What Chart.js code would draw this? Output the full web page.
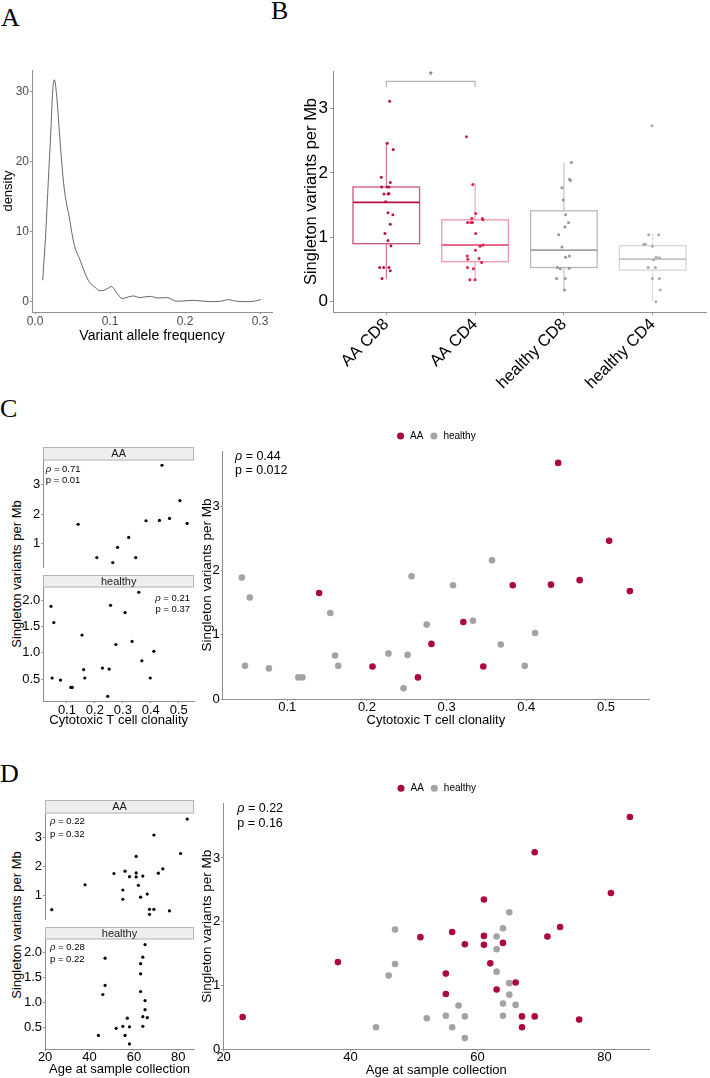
<!DOCTYPE html>
<html>
<head>
<meta charset="utf-8">
<script src="https://cdn.jsdelivr.net/npm/chart.js@4.4.1/dist/chart.umd.min.js"></script>
<style>
  body { margin: 0; background: #fff; width: 710px; height: 1078px; position: relative; overflow: hidden; font-family: "Liberation Sans", Arial, sans-serif; }
  canvas { position: absolute; }
  .letter { position: absolute; font-family: "Liberation Serif", "Times New Roman", serif; font-size: 26px; line-height: 26px; color: #000; }
  .ytitle { position: absolute; width: 220px; height: 16px; line-height: 16px; text-align: center; white-space: nowrap; font-size: 13px; color: #000; transform: rotate(-90deg); }
</style>
</head>
<body>
<div class="letter" style="left:1px;top:5px">A</div>
<div class="letter" style="left:271px;top:-2px">B</div>
<div class="letter" style="left:0px;top:396px">C</div>
<div class="letter" style="left:0px;top:761px">D</div>
<div class="ytitle" style="left:-93px;top:566px">Singleton variants per Mb</div>
<div class="ytitle" style="left:-93px;top:917px">Singleton variants per Mb</div>

<canvas id="chartA"></canvas>
<canvas id="chartB"></canvas>
<canvas id="chartCaa"></canvas>
<canvas id="chartChealthy"></canvas>
<canvas id="chartC"></canvas>
<canvas id="chartDaa"></canvas>
<canvas id="chartDhealthy"></canvas>
<canvas id="chartD"></canvas>

<script>
// A: density of variant allele frequency
const vafX = [0.0103, 0.0143, 0.0178, 0.021, 0.0236, 0.0258, 0.029, 0.0333, 0.0387, 0.0457, 0.052, 0.060, 0.071, 0.080, 0.0867, 0.094, 0.102, 0.109, 0.116, 0.124, 0.131, 0.140, 0.153, 0.164, 0.176, 0.189, 0.211, 0.233, 0.247, 0.258, 0.269, 0.287, 0.301];
const vafDensity = [3.1, 9.8, 17.4, 24.1, 30.2, 31.7, 29.3, 23.1, 16.4, 12.1, 8.3, 6.0, 3.1, 2.1, 1.6, 1.75, 2.2, 1.3, 0.5, 0.7, 0.86, 0.63, 0.81, 0.57, 0.62, 0.1, 0.24, 0.05, 0.1, 0.33, 0.1, 0.05, 0.33];
const vafTicks = [0, 0.1, 0.2, 0.3];
const densityTicks = [0, 10, 20, 30];

// B: singleton variants per group
const groups = ['AA CD8', 'AA CD4', 'healthy CD8', 'healthy CD4'];
const boxLower = [0.35, 0.34, 0.18, 0.00];
const boxQ1 = [0.90, 0.62, 0.53, 0.49];
const boxMedian = [1.54, 0.88, 0.80, 0.66];
const boxQ3 = [1.78, 1.27, 1.41, 0.87];
const boxUpper = [2.45, 1.84, 2.16, 1.06];
const aaCD8Vals = [3.11, 2.46, 2.36, 1.93, 1.85, 1.78, 1.78, 1.78, 1.67, 1.67, 1.68, 1.55, 1.38, 1.35, 1.20, 1.06, 0.95, 0.87, 0.53, 0.53, 0.53, 0.48, 0.36];
const aaCD8Jit = [0.037, 0.011, 0.078, -0.056, 0.045, -0.052, 0.011, 0.030, -0.026, 0.019, 0.030, -0.007, 0.019, 0.074, 0.045, -0.015, 0.019, 0.052, -0.074, -0.030, 0.030, 0.045, -0.048];
const aaCD4Vals = [2.56, 1.82, 1.37, 1.29, 1.29, 1.27, 1.23, 1.23, 1.23, 1.06, 0.88, 0.86, 0.80, 0.71, 0.66, 0.67, 0.61, 0.53, 0.51, 0.34, 0.34];
const aaCD4Jit = [-0.097, -0.026, 0.007, -0.037, 0.082, 0.089, -0.085, -0.048, -0.030, 0.007, 0.089, 0.056, 0.004, -0.089, -0.082, 0.045, 0.074, -0.085, -0.019, -0.059, 0.000];
const healthyCD8Vals = [2.16, 1.90, 1.88, 1.77, 1.58, 1.35, 1.23, 1.16, 1.04, 0.85, 0.71, 0.69, 0.53, 0.51, 0.52, 0.36, 0.36, 0.18];
const healthyCD8Jit = [0.085, 0.063, 0.074, -0.022, -0.007, 0.019, 0.052, 0.011, -0.059, -0.022, 0.063, 0.019, -0.074, -0.041, 0.059, -0.082, 0.015, 0.007];
const healthyCD4Vals = [2.73, 1.04, 1.04, 0.89, 0.89, 0.86, 0.69, 0.68, 0.65, 0.53, 0.53, 0.36, 0.36, 0.18, 0.00];
const healthyCD4Jit = [-0.007, -0.045, 0.067, -0.100, -0.082, -0.004, 0.041, 0.078, 0.011, -0.052, 0.030, -0.004, 0.074, 0.085, 0.037];
const sigPair = [1, 2];
const sigLevel = 3.42;
const sigLabel = '*';
const burdenTicks = [0, 1, 2, 3];

// C: clonality vs burden
const clonAAX = [0.440, 0.504, 0.140, 0.383, 0.431, 0.467, 0.530, 0.321, 0.281, 0.207, 0.346, 0.264];
const clonAAY = [3.67, 2.46, 1.65, 1.77, 1.78, 1.85, 1.68, 1.20, 0.86, 0.51, 0.51, 0.34];
const clonHealthyX = [0.043, 0.053, 0.047, 0.077, 0.114, 0.119, 0.154, 0.160, 0.164, 0.227, 0.251, 0.246, 0.256, 0.275, 0.308, 0.333, 0.357, 0.368, 0.398, 0.411];
const clonHealthyY = [1.89, 1.58, 0.52, 0.48, 0.34, 0.34, 1.34, 0.68, 0.52, 0.71, 0.69, 0.17, 1.91, 1.16, 1.77, 1.22, 2.16, 0.85, 0.52, 1.03];
const clonTicks = [0.1, 0.2, 0.3, 0.4, 0.5];

// D: age vs burden
const ageAAX = [84, 69, 81, 61, 73, 56, 51, 71, 61, 58, 61, 64, 38, 62, 55, 66, 63, 55, 23, 67, 69, 76, 67];
const ageAAY = [3.64, 3.09, 2.45, 2.35, 1.92, 1.84, 1.76, 1.77, 1.78, 1.65, 1.64, 1.67, 1.37, 1.35, 1.19, 1.05, 0.94, 0.87, 0.51, 0.52, 0.52, 0.47, 0.35];
const ageHealthyX = [65, 47, 64, 63, 63, 47, 46, 63, 65, 65, 64, 66, 57, 55, 58, 64, 52, 44, 56, 58];
const ageHealthyY = [2.15, 1.88, 1.90, 1.77, 1.57, 1.34, 1.16, 1.22, 1.04, 0.86, 0.72, 0.70, 0.69, 0.53, 0.52, 0.53, 0.49, 0.35, 0.35, 0.18];
const ageTicks = [20, 40, 60, 80];

const facetAATicks = [1, 2, 3];
const facetHealthyTicks = [0.5, 1.0, 1.5, 2.0];

// spearman labels [rho, p]
const corrClonAll = ['0.44', '0.012'];
const corrClonAA = ['0.71', '0.01'];
const corrClonHealthy = ['0.21', '0.37'];
const corrAgeAll = ['0.22', '0.16'];
const corrAgeAA = ['0.22', '0.32'];
const corrAgeHealthy = ['0.28', '0.22'];

const FONT = '"Liberation Sans", Arial, sans-serif';
const AXIS = '#8f8f8f';
const RED = '#ab0a3d';
const GREY = '#a3a3a3';
Chart.defaults.font.family = FONT;
Chart.defaults.color = '#000';
Chart.defaults.animation = false;

function frame(id, box, plot, legendH = 0) {
    const c = document.getElementById(id);
    c.width = box.r - box.l;
    c.height = box.b - box.t;
    c.style.left = box.l + 'px';
    c.style.top = box.t + 'px';
    return {
        canvas: c,
        padding: { left: 0, top: plot.t - box.t - legendH, right: box.r - plot.r, bottom: 0 },
        yFit: plot.l - box.l,
        xFit: box.b - plot.b
    };
}

function scaleCfg(o) {
    return {
        type: 'linear',
        display: o.display !== false,
        min: o.min,
        max: o.max,
        afterBuildTicks: s => { s.ticks = o.ticks.map(v => ({ value: v })); },
        afterFit: s => { if (s.isHorizontal()) s.height = o.fit; else s.width = o.fit; },
        ticks: {
            autoSkip: false,
            padding: o.pad ?? 1,
            color: o.color || '#000',
            font: { family: FONT, size: o.size, lineHeight: 1 },
            maxRotation: o.rot || 0,
            minRotation: o.rot || 0,
            callback: (v, i) => o.labels ? o.labels[i] : (o.fmt ? o.fmt(v) : String(v))
        },
        grid: { display: true, drawOnChartArea: false, drawTicks: true, tickLength: o.tick ?? 2, color: AXIS, lineWidth: 1 },
        border: { display: true, color: AXIS, width: 1 },
        title: o.title
            ? { display: true, text: o.title, color: '#000', font: { family: FONT, size: o.titleSize }, padding: o.titlePad }
            : { display: false }
    };
}

function pts(xs, ys) {
    return xs.map((x, i) => ({ x: x, y: ys[i] }));
}

// facet strip on top of panel
const stripPlugin = {
    id: 'strip',
    afterDraw(chart, args, o) {
        if (!o.text) return;
        const { ctx, chartArea: a } = chart;
        ctx.save();
        ctx.fillStyle = '#eeeeee';
        ctx.strokeStyle = '#b5b5b5';
        ctx.lineWidth = 1;
        const top = Math.round(a.top - o.h) + 0.5;
        ctx.fillRect(a.left, top, a.right - a.left, o.h);
        ctx.strokeRect(Math.round(a.left) + 0.5, top, Math.round(a.right - a.left) - 1, o.h - 0.5);
        ctx.fillStyle = '#1a1a1a';
        ctx.font = '11px ' + FONT;
        ctx.textAlign = 'center';
        ctx.textBaseline = 'middle';
        ctx.fillText(o.text, (a.left + a.right) / 2, top + o.h / 2);
        ctx.restore();
    }
};

// rho / p text in panel corner
const corrPlugin = {
    id: 'corr',
    afterDatasetsDraw(chart, args, o) {
        if (!o.values) return;
        const { ctx, chartArea: a } = chart;
        ctx.save();
        ctx.fillStyle = '#000';
        ctx.textBaseline = 'middle';
        ctx.textAlign = 'left';
        [['\u03C1', o.values[0]], ['p', o.values[1]]].forEach(([sym, val], i) => {
            const y = a.top + o.dy + i * o.gap;
            const rest = ' = ' + val;
            const symFont = (sym === 'p' ? '' : 'italic ') + o.size + 'px ' + FONT;
            const restFont = o.size + 'px ' + FONT;
            ctx.font = symFont;
            const w1 = ctx.measureText(sym).width;
            ctx.font = restFont;
            const w2 = ctx.measureText(rest).width;
            const x = o.align === 'right' ? a.right + o.dx - w1 - w2 : a.left + o.dx;
            ctx.font = symFont;
            ctx.fillText(sym, x, y);
            ctx.font = restFont;
            ctx.fillText(rest, x + w1, y);
        });
        ctx.restore();
    }
};

// boxplots + significance bracket
const boxPlugin = {
    id: 'boxes',
    beforeDatasetsDraw(chart, args, o) {
        const { ctx, scales: { x, y } } = chart;
        ctx.save();
        groups.forEach((g, i) => {
            const xc = x.getPixelForValue(i + 1);
            const hw = (x.getPixelForValue(i + 1 + o.width / 2) - x.getPixelForValue(i + 1 - o.width / 2)) / 2;
            const yq1 = y.getPixelForValue(boxQ1[i]);
            const yq3 = y.getPixelForValue(boxQ3[i]);
            ctx.strokeStyle = o.lineColors[i];
            ctx.lineWidth = 1;
            ctx.beginPath();
            ctx.moveTo(xc, y.getPixelForValue(boxUpper[i]));
            ctx.lineTo(xc, yq3);
            ctx.moveTo(xc, yq1);
            ctx.lineTo(xc, y.getPixelForValue(boxLower[i]));
            ctx.stroke();
            ctx.lineWidth = 1.3;
            ctx.strokeRect(xc - hw, yq3, hw * 2, yq1 - yq3);
            ctx.strokeStyle = o.medianColors[i];
            ctx.lineWidth = 1.8;
            ctx.beginPath();
            const ym = y.getPixelForValue(boxMedian[i]);
            ctx.moveTo(xc - hw, ym);
            ctx.lineTo(xc + hw, ym);
            ctx.stroke();
        });
        const x1 = x.getPixelForValue(sigPair[0]);
        const x2 = x.getPixelForValue(sigPair[1]);
        const yb = y.getPixelForValue(sigLevel);
        const yt = y.getPixelForValue(sigLevel - 0.09);
        ctx.strokeStyle = '#8a8a8a';
        ctx.lineWidth = 0.8;
        ctx.beginPath();
        ctx.moveTo(x1, yt);
        ctx.lineTo(x1, yb);
        ctx.lineTo(x2, yb);
        ctx.lineTo(x2, yt);
        ctx.stroke();
        ctx.fillStyle = '#555';
        ctx.font = '10px ' + FONT;
        ctx.textAlign = 'center';
        ctx.textBaseline = 'middle';
        ctx.fillText(sigLabel, (x1 + x2) / 2, y.getPixelForValue(sigLevel + 0.08));
        ctx.restore();
    }
};

// ---------- A ----------
(function () {
    const f = frame('chartA', { l: 0, t: 60, r: 285, b: 350 }, { l: 32, t: 70, r: 272, b: 312 });
    new Chart(f.canvas, {
        type: 'line',
        data: {
            datasets: [{
                data: pts(vafX, vafDensity),
                borderColor: '#555',
                borderWidth: 0.9,
                pointRadius: 0,
                cubicInterpolationMode: 'monotone',
                fill: false
            }]
        },
        options: {
            responsive: false, events: [],
            layout: { padding: f.padding },
            plugins: { legend: { display: false }, tooltip: { enabled: false } },
            scales: {
                x: scaleCfg({ min: -0.004, max: 0.316, ticks: vafTicks, fmt: v => v.toFixed(1), size: 12, color: '#4d4d4d', fit: f.xFit, pad: 2,
                    title: 'Variant allele frequency', titleSize: 14, titlePad: { top: 0, bottom: 5 } }),
                y: scaleCfg({ min: -1.43, max: 33.1, ticks: densityTicks, size: 12, color: '#4d4d4d', fit: f.yFit,
                    title: 'density', titleSize: 13, titlePad: { top: 1, bottom: 0 } })
            }
        }
    });
})();

// ---------- B ----------
(function () {
    const f = frame('chartB', { l: 298, t: 60, r: 710, b: 400 }, { l: 333, t: 71, r: 708, b: 312 });
    const groupVals = [aaCD8Vals, aaCD4Vals, healthyCD8Vals, healthyCD4Vals];
    const groupJit = [aaCD8Jit, aaCD4Jit, healthyCD8Jit, healthyCD4Jit];
    const pointColors = ['#b3134a', '#dc1f4c', '#969696', '#ababab'];
    new Chart(f.canvas, {
        type: 'scatter',
        data: {
            datasets: groups.map((g, i) => ({
                label: g,
                data: groupVals[i].map((v, k) => ({ x: i + 1 + groupJit[i][k], y: v })),
                pointRadius: 1.5,
                pointBorderWidth: 0,
                backgroundColor: pointColors[i]
            }))
        },
        options: {
            responsive: false, events: [],
            layout: { padding: f.padding },
            plugins: {
                legend: { display: false }, tooltip: { enabled: false },
                boxes: {
                    width: 0.75,
                    lineColors: ['#cc5479', '#f095aa', '#b8b8b8', '#d6d6d6'],
                    medianColors: ['#b3134a', '#e86a86', '#a3a3a3', '#c2c2c2']
                }
            },
            scales: {
                x: scaleCfg({ min: 0.4, max: 4.6, ticks: [1, 2, 3, 4], labels: groups, size: 16.5, fit: f.xFit, rot: 45, tick: 3, pad: 1 }),
                y: scaleCfg({ min: -0.16, max: 3.58, ticks: burdenTicks, size: 17, fit: f.yFit, tick: 3, pad: 2,
                    title: 'Singleton variants per Mb', titleSize: 16.5, titlePad: { top: 4, bottom: 0 } })
            }
        },
        plugins: [boxPlugin]
    });
})();

// ---------- facet helper ----------
function facet(id, box, plot, xs, ys, yMin, yMax, yTicks, yFmt, strip, corr, xAxis) {
    const f = frame(id, box, plot);
    return new Chart(f.canvas, {
        type: 'scatter',
        data: { datasets: [{ data: pts(xs, ys), pointRadius: 1.6, pointBorderWidth: 0, backgroundColor: '#000' }] },
        options: {
            responsive: false, events: [],
            layout: { padding: f.padding },
            plugins: { legend: { display: false }, tooltip: { enabled: false }, strip: strip, corr: corr },
            scales: {
                x: xAxis ? scaleCfg(Object.assign({ fit: f.xFit }, xAxis))
                         : { type: 'linear', display: false, min: xAxisRange[id][0], max: xAxisRange[id][1] },
                y: scaleCfg({ min: yMin, max: yMax, ticks: yTicks, fmt: yFmt, size: 13, fit: f.yFit, tick: 2, pad: 1 })
            }
        },
        plugins: [stripPlugin, corrPlugin]
    });
}
const xAxisRange = { chartCaa: [0.0155, 0.5545], chartDaa: [19.95, 87.05] };

// ---------- C facets ----------
facet('chartCaa', { l: 20, t: 447, r: 198, b: 575 }, { l: 43.3, t: 460, r: 196, b: 575 },
    clonAAX, clonAAY, 0.17, 3.85, facetAATicks, null,
    { text: 'AA', h: 13 }, { values: corrClonAA, align: 'left', dx: 2.5, dy: 9, gap: 11.7, size: 9.5 }, null);
facet('chartChealthy', { l: 20, t: 575, r: 198, b: 735 }, { l: 43.3, t: 587, r: 196, b: 701 },
    clonHealthyX, clonHealthyY, 0.08, 2.26, facetHealthyTicks, v => v.toFixed(1),
    { text: 'healthy', h: 12 }, { values: corrClonHealthy, align: 'right', dx: -4, dy: 11, gap: 11.5, size: 9.5 },
    { min: 0.0155, max: 0.5545, ticks: clonTicks, fmt: v => v.toFixed(1), size: 13, tick: 2, pad: 1,
      title: 'Cytotoxic T cell clonality', titleSize: 13, titlePad: { top: 0, bottom: 7 } });

// ---------- D facets ----------
facet('chartDaa', { l: 20, t: 800, r: 198, b: 927.3 }, { l: 45, t: 813, r: 195, b: 927.3 },
    ageAAX, ageAAY, 0.17, 3.85, facetAATicks, null,
    { text: 'AA', h: 13 }, { values: corrAgeAA, align: 'left', dx: 5, dy: 8.7, gap: 12.5, size: 9.5 }, null);
facet('chartDhealthy', { l: 20, t: 927.3, r: 198, b: 1078 }, { l: 45, t: 939.3, r: 195, b: 1050 },
    ageHealthyX, ageHealthyY, 0.08, 2.26, facetHealthyTicks, v => v.toFixed(1),
    { text: 'healthy', h: 12 }, { values: corrAgeHealthy, align: 'left', dx: 5, dy: 8, gap: 12, size: 9.5 },
    { min: 19.95, max: 87.05, ticks: ageTicks, size: 13, tick: 2, pad: 0,
      title: 'Age at sample collection', titleSize: 13, titlePad: { top: 0, bottom: 0 } });

// ---------- main panels ----------
function mainPanel(id, box, plot, aaX, aaY, hX, hY, xMin, xMax, xTicks, xFmt, xTitle, titleBottom, corr) {
    const legendH = 10 + 6 + 10;
    const f = frame(id, box, plot, legendH);
    new Chart(f.canvas, {
        type: 'scatter',
        data: {
            datasets: [
                { label: 'AA', data: pts(aaX, aaY), pointRadius: 3.3, pointBorderWidth: 0, borderWidth: 0, backgroundColor: RED },
                { label: 'healthy', data: pts(hX, hY), pointRadius: 3.3, pointBorderWidth: 0, borderWidth: 0, backgroundColor: GREY }
            ]
        },
        options: {
            responsive: false, events: [],
            layout: { padding: f.padding },
            plugins: {
                tooltip: { enabled: false },
                legend: {
                    display: true, position: 'top', fullSize: false,
                    labels: { usePointStyle: true, pointStyle: 'circle', boxWidth: 9, boxHeight: 5, padding: 6, color: '#000', font: { size: 10, family: FONT } }
                },
                corr: corr
            },
            scales: {
                x: scaleCfg({ min: xMin, max: xMax, ticks: xTicks, fmt: xFmt, size: 13, fit: f.xFit, tick: 2, pad: 0,
                    title: xTitle, titleSize: 13, titlePad: { top: 0, bottom: titleBottom } }),
                y: scaleCfg({ min: 0.005, max: 3.855, ticks: burdenTicks, size: 13, fit: f.yFit, tick: 2, pad: 1,
                    title: 'Singleton variants per Mb', titleSize: 13.5, titlePad: { top: 1, bottom: 0 } })
            }
        },
        plugins: [corrPlugin]
    });
}

mainPanel('chartC', { l: 198, t: 425, r: 660, b: 735 }, { l: 222.7, t: 451, r: 649, b: 699 },
    clonAAX, clonAAY, clonHealthyX, clonHealthyY, 0.019, 0.554, clonTicks, v => v.toFixed(1),
    'Cytotoxic T cell clonality', 7, { values: corrClonAll, align: 'left', dx: 12.3, dy: 6, gap: 14, size: 12.5 });

mainPanel('chartD', { l: 198, t: 777, r: 660, b: 1078 }, { l: 223.3, t: 803.3, r: 649.3, b: 1049.3 },
    ageAAX, ageAAY, ageHealthyX, ageHealthyY, 19.95, 87.05, ageTicks, null,
    'Age at sample collection', 0.2, { values: corrAgeAll, align: 'left', dx: 14, dy: 5.7, gap: 14.3, size: 12.5 });
</script>
</body>
</html>
